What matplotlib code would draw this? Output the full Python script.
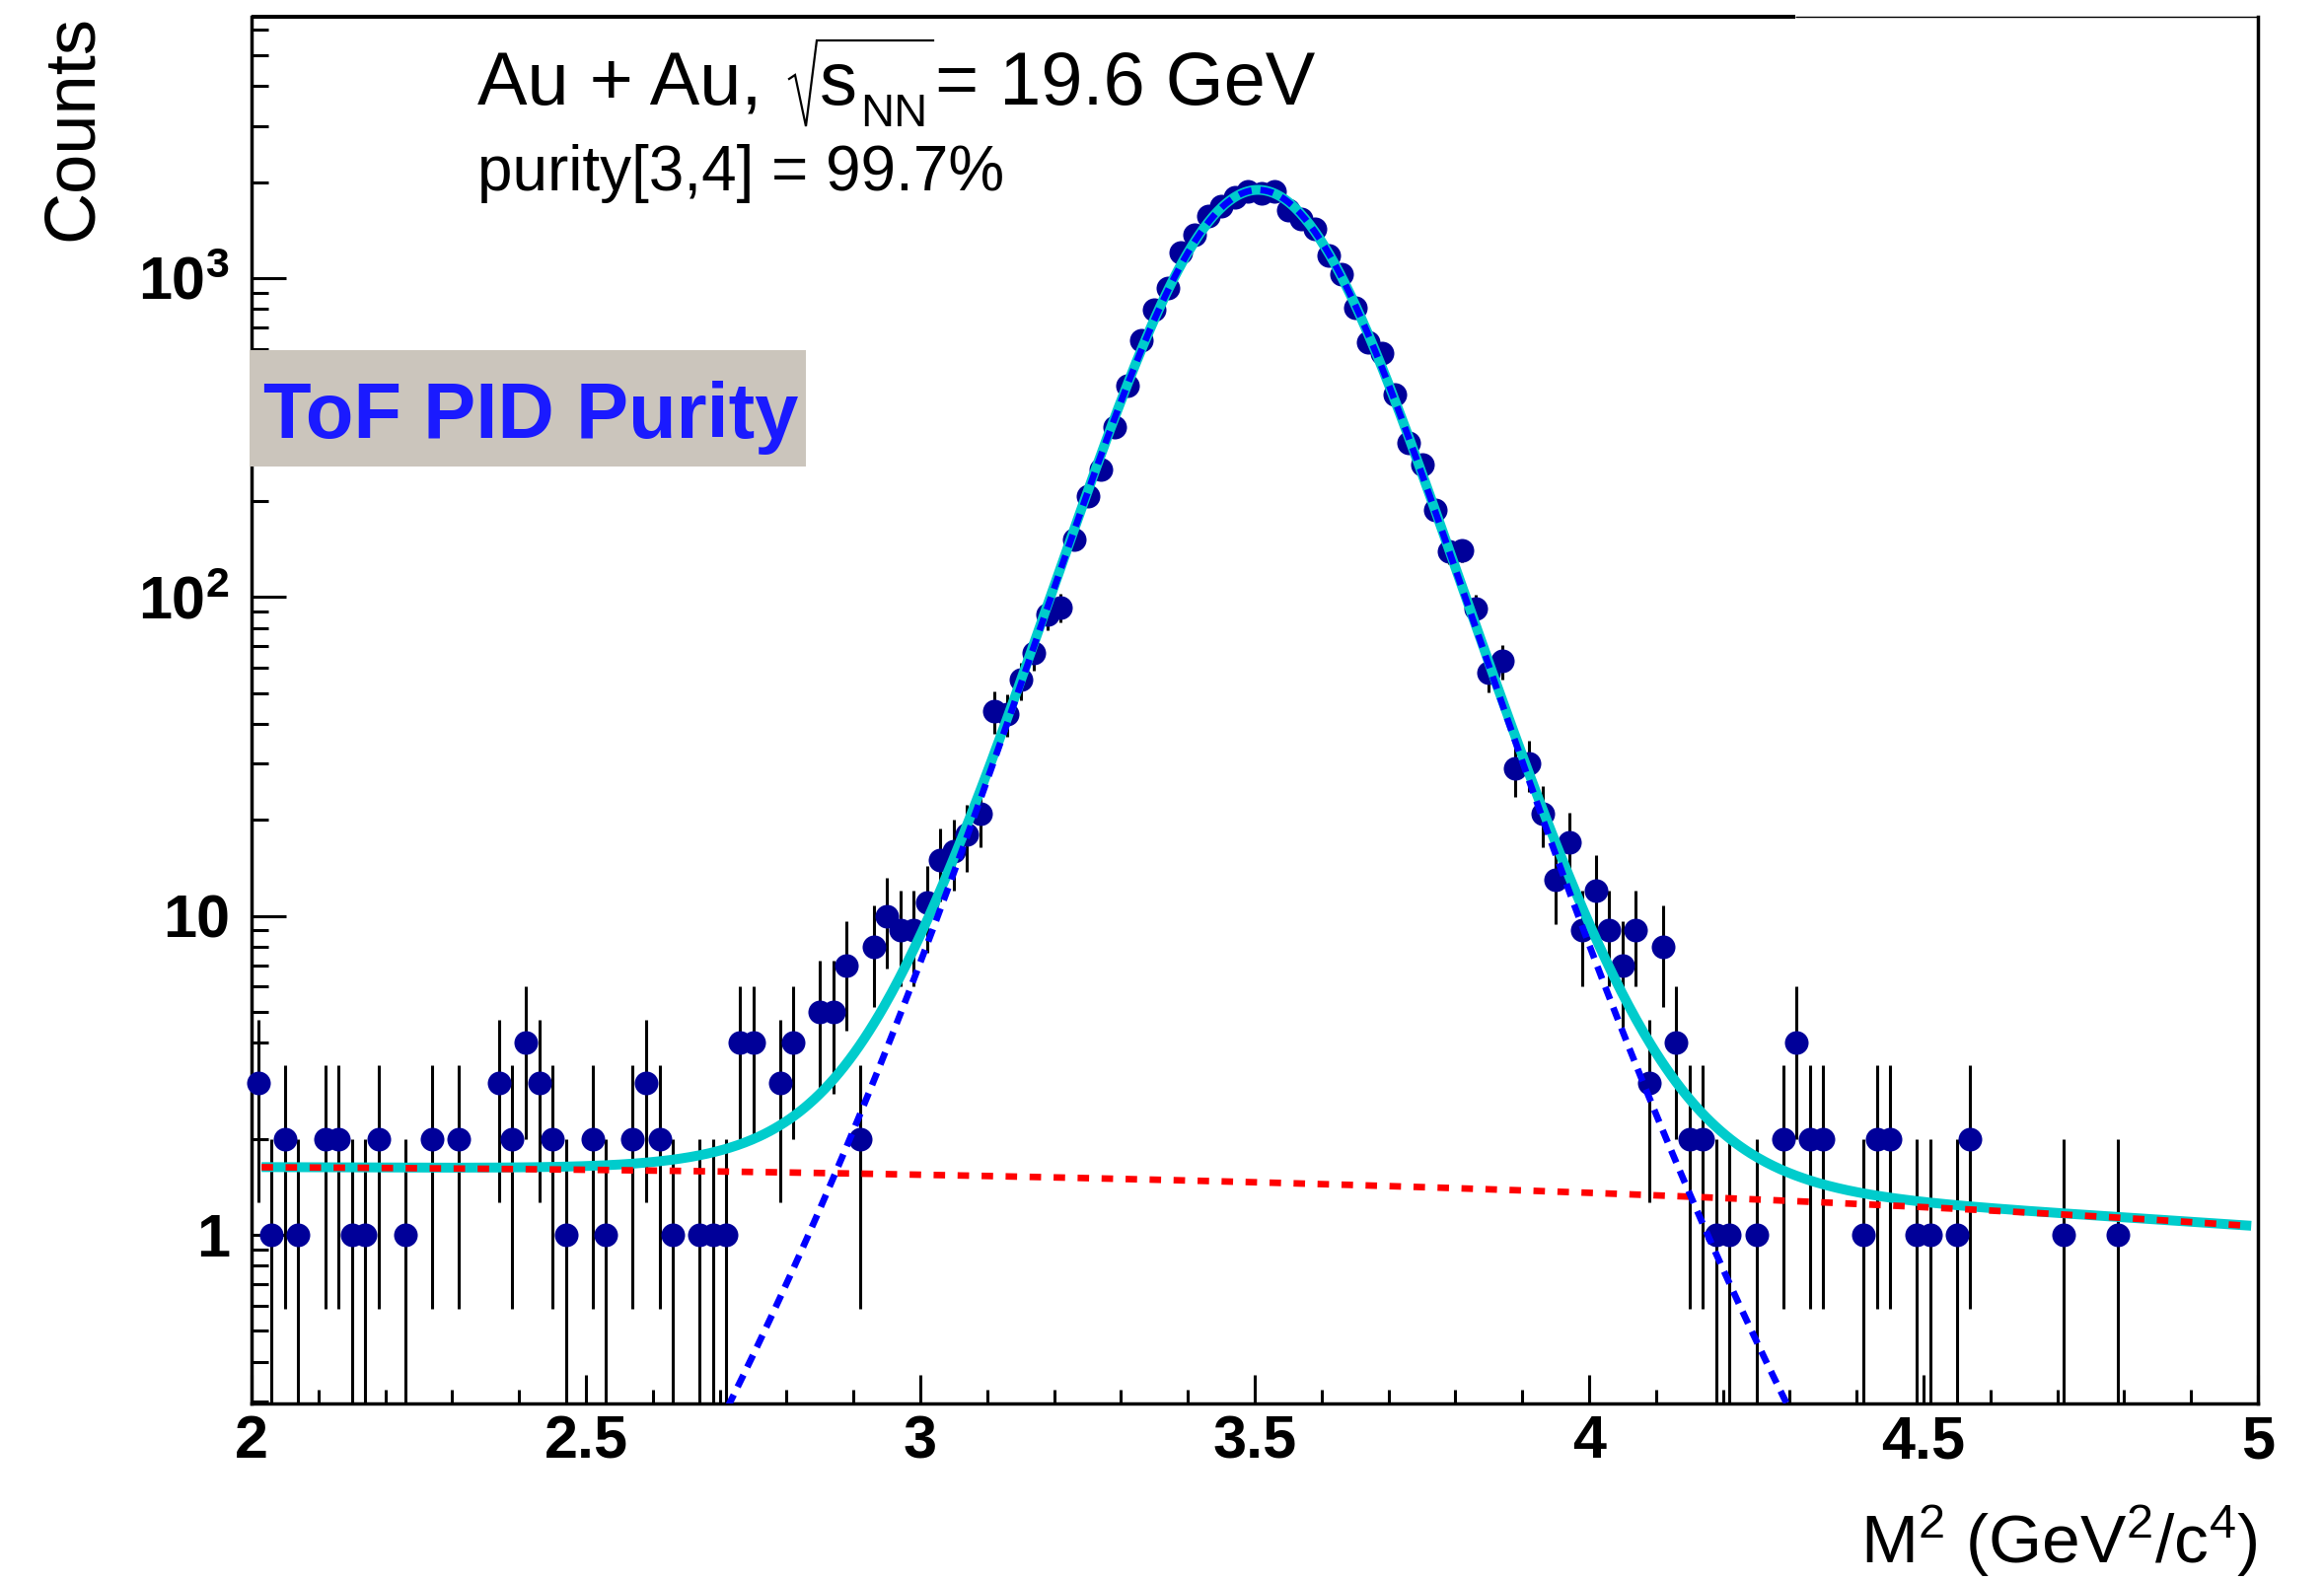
import numpy as np
import matplotlib
matplotlib.use("Agg")
import matplotlib.pyplot as plt
import matplotlib.ticker as mticker
from matplotlib.patches import Rectangle
from matplotlib.lines import Line2D

plt.rcParams['font.family'] = ['Liberation Sans', 'DejaVu Sans']
plt.rcParams['mathtext.fontset'] = 'custom'
plt.rcParams['mathtext.rm'] = 'Liberation Sans'
plt.rcParams['mathtext.it'] = 'Liberation Sans:italic'
plt.rcParams['mathtext.bf'] = 'Liberation Sans:bold'
plt.rcParams['mathtext.default'] = 'regular'

# histogram: M^2 from 2 to 5 GeV^2/c^4, 150 bins of 0.02
BIN_EDGES = np.linspace(2.0, 5.0, 151)
COUNTS = [
    3, 1, 2, 1, 0, 2, 2, 1, 1, 2,
    0, 1, 0, 2, 0, 2, 0, 0, 3, 2,
    4, 3, 2, 1, 0, 2, 1, 0, 2, 3,
    2, 1, 0, 1, 1, 1, 4, 4, 0, 3,
    4, 0, 5, 5, 7, 2, 8, 10, 9, 9,
    11, 15, 16, 18, 21, 44, 43, 55, 67, 88,
    93, 152, 208, 251, 341, 460, 638, 795, 932, 1207,
    1371, 1563, 1676, 1796, 1870, 1845, 1865, 1635, 1530, 1430,
    1180, 1026, 805, 631, 580, 431, 304, 261, 187, 139,
    140, 92, 58, 63, 29, 30, 21, 13, 17, 9,
    12, 9, 7, 9, 3, 8, 4, 2, 2, 1,
    1, 0, 1, 0, 2, 4, 2, 2, 0, 0,
    1, 2, 2, 0, 1, 1, 0, 1, 2, 0,
    0, 0, 0, 0, 0, 1, 0, 0, 0, 1,
    0, 0, 0, 0, 0, 0, 0, 0, 0, 0,
]

# fit results (signal: Student-t shape, background: pol2 in (M2 - 2))
SIG_AMP = 1890.0
SIG_MEAN = 3.505
SIG_SIGMA = 0.114
SIG_NDF = 8.0
BKG_P0 = 1.63
BKG_P1 = -0.0346
BKG_P2 = -0.0515
FIT_RANGE = (2.015, 4.99)

X_TICKS = [2, 2.5, 3, 3.5, 4, 4.5, 5]
X_TICK_LABELS = ['2', '2.5', '3', '3.5', '4', '4.5', '5']
Y_TICKS = [1, 10, 100, 1000]
Y_TICK_LABELS = ['1', '10', r'$\mathbf{10^{2}}$', r'$\mathbf{10^{3}}$']


def signal(x):
    z = (x - SIG_MEAN) / SIG_SIGMA
    return SIG_AMP * (1 + z ** 2 / SIG_NDF) ** (-(SIG_NDF + 1) / 2)


def background(x):
    t = x - 2.0
    return BKG_P0 + BKG_P1 * t + BKG_P2 * t ** 2


W, H = 2356, 1603


def fx(px):
    return px / W


def fy(py):
    return 1 - py / H


fig = plt.figure(figsize=(W / 100, H / 100), dpi=100)
L, R, T, B = 255, 2289, 17, 1423
ax = fig.add_axes([fx(L), fy(B), (R - L) / W, (B - T) / H])

counts = np.array(COUNTS, dtype=float)
centers = 0.5 * (BIN_EDGES[:-1] + BIN_EDGES[1:])
filled = counts > 0
xc = centers[filled]
yc = counts[filled]
err = np.sqrt(yc)

ax.vlines(xc, np.maximum(yc - err, 1e-3), yc + err, color='black', lw=2.2, zorder=2)
ax.plot(xc, yc, 'o', ms=17.3, color='#000099', mew=0, zorder=3, clip_on=False)

xf = np.linspace(FIT_RANGE[0], FIT_RANGE[1], 800)
ax.plot(xf, signal(xf) + background(xf), color='#00cccc', lw=7.2, zorder=4,
        solid_capstyle='butt')
ax.plot(xf, background(xf), color='#ff0000', lw=4.8, ls=(0, (1.75, 1.9)), zorder=5)
ax.plot(xf, signal(xf), color='#0000ff', lw=4.8, ls=(0, (2.0, 1.35)), zorder=6)

ax.set_xlim(2, 5)
ax.set_yscale('log')
ax.set_ylim(0.296, 6600)

ax.xaxis.set_major_locator(mticker.FixedLocator(X_TICKS))
ax.xaxis.set_major_formatter(mticker.FixedFormatter(X_TICK_LABELS))
ax.xaxis.set_minor_locator(mticker.MultipleLocator(0.1))
ax.yaxis.set_major_locator(mticker.FixedLocator(Y_TICKS))
ax.yaxis.set_major_formatter(mticker.FixedFormatter(Y_TICK_LABELS))
ax.yaxis.set_minor_locator(mticker.LogLocator(base=10, subs=range(2, 10)))
ax.yaxis.set_minor_formatter(mticker.NullFormatter())

ax.tick_params(which='both', direction='in', top=False, right=False, width=2.2, colors='black')
ax.tick_params(axis='x', which='major', length=21, pad=8, labelsize=44)
ax.tick_params(axis='x', which='minor', length=10)
ax.tick_params(axis='y', which='major', length=25, pad=16, labelsize=44)
ax.tick_params(axis='y', which='minor', length=12)
for lab in ax.get_xticklabels() + ax.get_yticklabels():
    lab.set_fontweight('bold')

for side in ['left', 'bottom', 'right']:
    ax.spines[side].set_linewidth(2.5)
ax.spines['top'].set_visible(False)
split = (1820 - L) / (R - L)
ax.plot([0, split], [1, 1], transform=ax.transAxes, color='black', lw=2.9,
        clip_on=False, solid_capstyle='butt', zorder=7)
ax.plot([split, 1], [1, 1], transform=ax.transAxes, color='black', lw=1.0,
        clip_on=False, solid_capstyle='butt', zorder=7)

# axis titles
fig.text(fx(R), fy(1585), r'M$^{2}$ (GeV$^{2}$/c$^{4}$)', ha='right', va='baseline',
         fontsize=50)
fig.text(fx(74), fy(15), 'Counts', rotation=90, ha='center', va='top', fontsize=52)

# Au + Au, sqrt(s_NN) = 19.6 GeV  (radical drawn ROOT-style)
fig.text(fx(484), fy(106), 'Au + Au,', ha='left', va='baseline', fontsize=54.5)
fig.add_artist(Line2D([fx(800), fx(806), fx(817), fx(828), fx(946)],
                      [fy(80), fy(76), fy(128), fy(41), fy(41)],
                      transform=fig.transFigure, color='black', lw=1.6,
                      solid_joinstyle='miter'))
fig.text(fx(831), fy(106), 's', ha='left', va='baseline', fontsize=54.5)
fig.text(fx(872), fy(128), 'NN', ha='left', va='baseline', fontsize=34)
fig.text(fx(948), fy(106), '= 19.6 GeV', ha='left', va='baseline', fontsize=54.5)

fig.text(fx(484), fy(193), 'purity[3,4] = 99.7%', ha='left', va='baseline', fontsize=46)

fig.add_artist(Rectangle((fx(253), fy(473)), (817 - 253) / W, (473 - 355) / H,
                         transform=fig.transFigure, facecolor='#cbc5bc', edgecolor='none',
                         zorder=10))
fig.text(fx(267), fy(444), 'ToF PID Purity', ha='left', va='baseline', fontsize=57.3,
         fontweight='bold', color='#1a1aff', zorder=11)

fig.savefig('out.png', dpi=100)
